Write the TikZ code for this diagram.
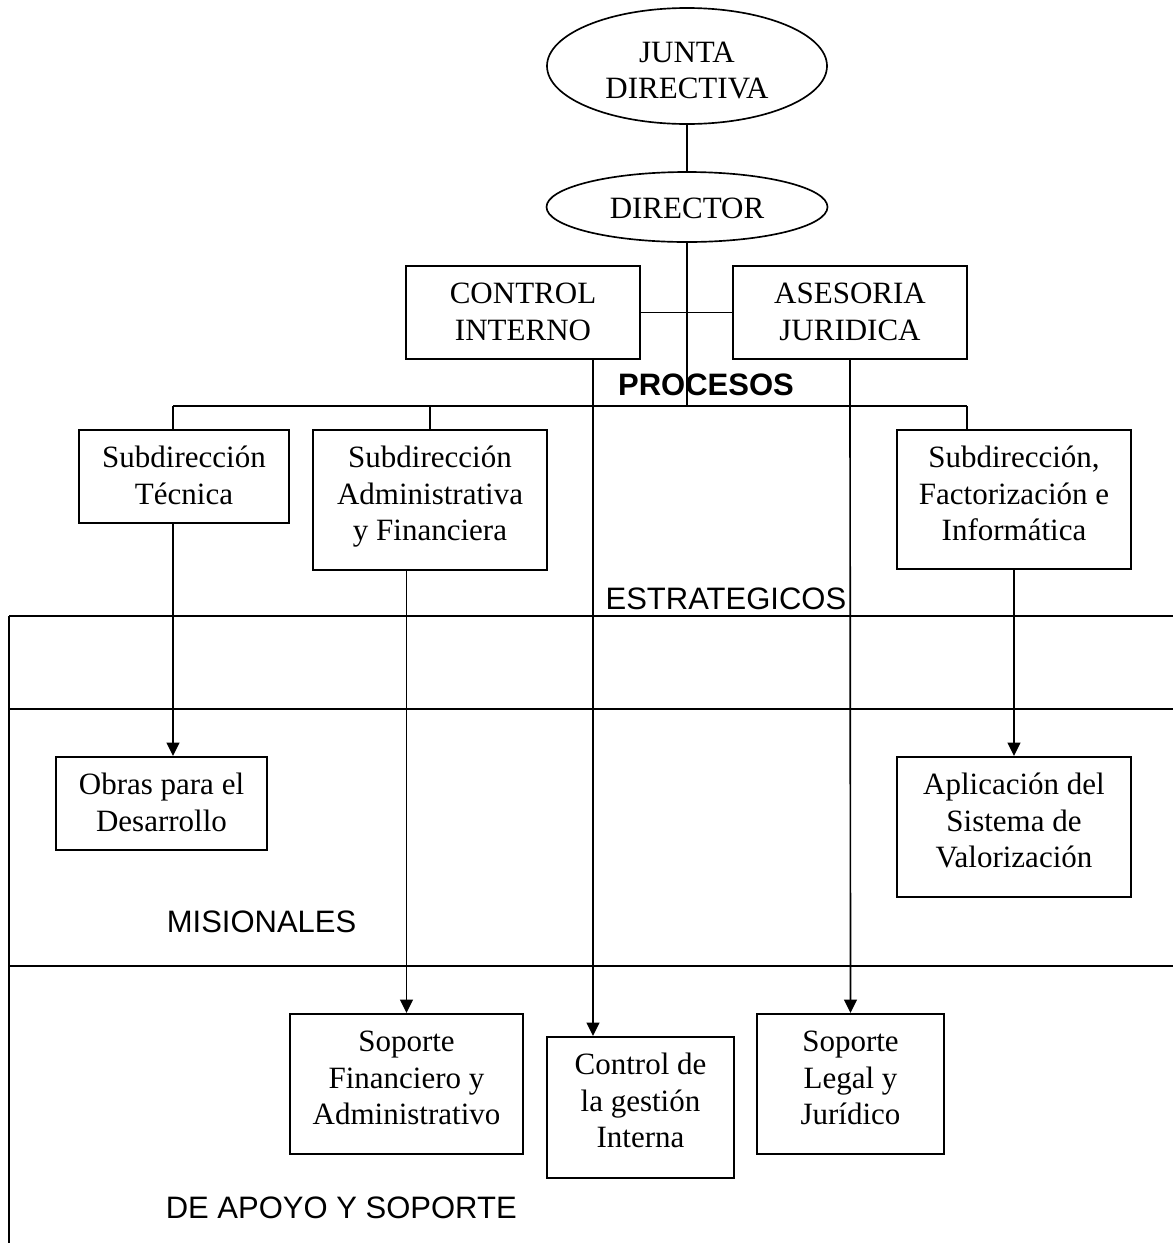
\documentclass[tikz,border=0pt]{standalone}
\usepackage{fontspec}
\setmainfont{Liberation Serif}
\newfontfamily\arialf{Liberation Sans}
\usetikzlibrary{arrows.meta,shapes.geometric}
\newcommand\szA{\fontsize{23.25pt}{27.4pt}\selectfont}
\newcommand\mlt[1]{\begin{tabular}[t]{@{}c@{}}#1\end{tabular}}
\begin{document}
\begin{tikzpicture}[x=0.75pt,y=-0.75pt, line width=1.25pt,
  box/.style={draw, rectangle, inner sep=0pt, anchor=north, text height=28.5pt, font=\szA},
  short/.style={text depth=41.25pt},
  tall/.style={text depth=76.5pt},
  oval/.style={draw, ellipse, inner sep=0pt, font=\szA},
  lbl/.style={inner sep=0pt, font=\arialf\szA},
  conn/.style={draw, line width=1.25pt},
  arr/.style={conn, -{Triangle[length=10pt,width=9.5pt]}},
]
\useasboundingbox (0,0) rectangle (1173,1243);

% bands
\draw[conn] (9,616) -- (1173,616);
\draw[conn] (9,709) -- (1173,709);
\draw[conn] (9,966) -- (1173,966);
\draw[conn] (9,616) -- (9,1243);

% top ellipses
\node[oval, minimum width=210pt, minimum height=87pt, text height=15.75pt, text depth=21.75pt] (junta) at (687,66) {\mlt{JUNTA\\DIRECTIVA}};
\node[oval, minimum width=210.75pt, minimum height=52.5pt, text height=16.5pt, text depth=0pt] (dir) at (687,207) {DIRECTOR};

% boxes
\node[box, short, minimum width=175.5pt] (ctrl) at (523,265) {\mlt{CONTROL\\INTERNO}};
\node[box, short, minimum width=175.5pt] (ases) at (850,265) {\mlt{ASESORIA\\JURIDICA}};

\node[box, short, minimum width=157.5pt] (stec) at (184,429) {\mlt{Subdirección\\Técnica}};
\node[box, tall, minimum width=175.5pt] (sadm) at (430,429) {\mlt{Subdirección\\Administrativa\\y Financiera}};
\node[box, minimum width=175.5pt, text depth=75.75pt] (sfac) at (1014,429) {\mlt{Subdirección,\\Factorización e\\Informática}};

\node[box, short, minimum width=158.25pt] (obras) at (161.5,756) {\mlt{Obras para el\\Desarrollo}};
\node[box, tall, minimum width=175.5pt] (aplic) at (1014,756) {\mlt{Aplicación del\\Sistema de\\Valorización}};

\node[box, tall, minimum width=174.75pt] (sfin) at (406.5,1013) {\mlt{Soporte\\Financiero y\\Administrativo}};
\node[box, minimum width=140.25pt, text depth=77.25pt] (cges) at (640.5,1036) {\mlt{Control de\\la gestión\\Interna}};
\node[box, tall, minimum width=140.25pt] (sleg) at (850.5,1013) {\mlt{Soporte\\Legal y\\Jurídico}};

% labels
\node[lbl, font=\arialf\bfseries\szA, anchor=base] (proc) at (706,395) {PROCESOS};
\node[lbl, anchor=base east] (estr) at (847,609) {ESTRATEGICOS};
\node[lbl, anchor=base west] (misi) at (166,932) {MISIONALES};
\node[lbl, anchor=base west] (apoyo) at (165,1218) {DE APOYO Y SOPORTE};

% tree connectors
\coordinate (hl) at (173,406);
\coordinate (hm) at (687,406);
\coordinate (hr) at (967,406);
\coordinate (cx) at (593,406);
\draw[conn] (junta.south) -- (dir.north);
\draw[conn] (dir.south) -- (hm);
\draw[conn] (ctrl.east) -- (ases.west);
\draw[conn] (hl) -- (hr);
\draw[conn] (hl) -- (stec.north -| hl);
\draw[conn] (sadm.north |- hl) -- (sadm.north);
\draw[conn] (hr) -- (sfac.north -| hr);

% arrows
\draw[arr] (stec.south -| hl) -- (obras.north -| hl);
\draw[arr] (sadm.south -| sfin.north) -- (sfin.north);
\draw[arr] (sfac.south) -- (aplic.north);
\draw[arr] (ctrl.south -| cx) -- (cges.north -| cx);
\draw[arr] (ases.south) -- (sleg.north);
\end{tikzpicture}
\end{document}
